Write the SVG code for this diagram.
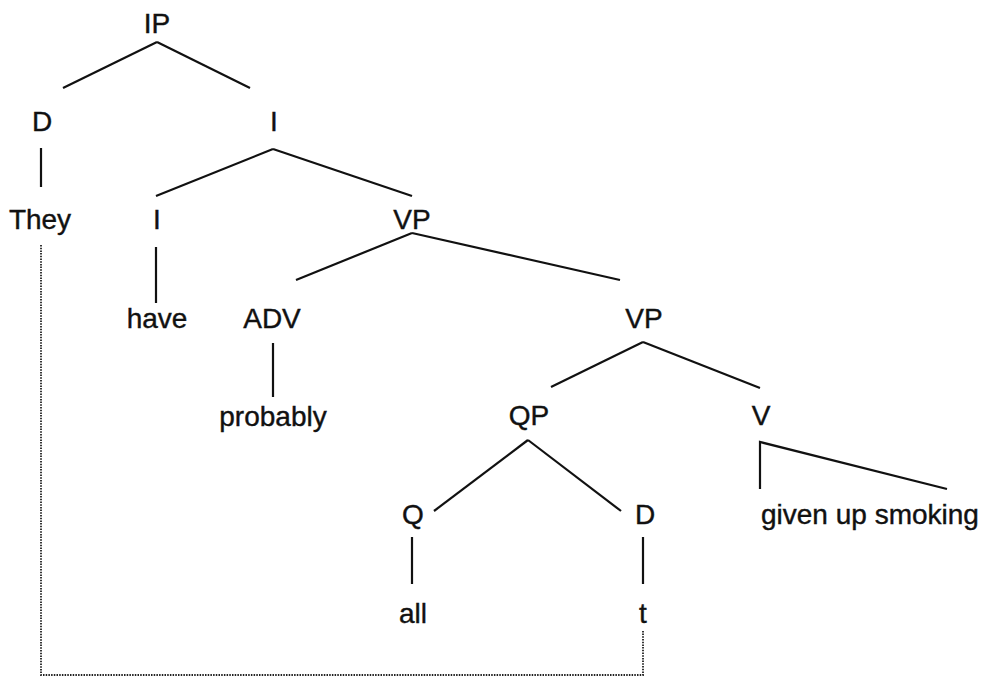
<svg xmlns="http://www.w3.org/2000/svg" width="986" height="676" viewBox="0 0 986 676">
<style>
text{font-family:"Liberation Sans",Arial,sans-serif;font-size:28px;fill:#111;stroke:#111;stroke-width:0.4;text-anchor:middle}
.e{stroke:#111;stroke-width:2.2;fill:none;stroke-linecap:butt}
.trace{stroke:#222;stroke-width:1.8;fill:none;stroke-dasharray:1.5 1.2}
</style>
<rect width="986" height="676" fill="#fff"/>
<g id="connectors">
<line class="e" x1="157" y1="42" x2="63" y2="88"/>
<line class="e" x1="157" y1="42" x2="250" y2="88"/>
<line class="e" x1="41" y1="148" x2="41" y2="187"/>
<line class="e" x1="273" y1="149" x2="156" y2="196"/>
<line class="e" x1="273" y1="149" x2="412" y2="196"/>
<line class="e" x1="156" y1="247" x2="156" y2="303"/>
<line class="e" x1="412" y1="233" x2="296" y2="280"/>
<line class="e" x1="412" y1="233" x2="620" y2="280"/>
<line class="e" x1="273" y1="343" x2="273" y2="397"/>
<line class="e" x1="643" y1="342" x2="551" y2="387"/>
<line class="e" x1="643" y1="342" x2="760" y2="388"/>
<line class="e" x1="528" y1="440" x2="434" y2="511"/>
<line class="e" x1="528" y1="440" x2="621" y2="511"/>
<line class="e" x1="412" y1="537" x2="412" y2="584"/>
<line class="e" x1="643" y1="537" x2="643" y2="584"/>
<polyline class="e" points="760,489 760,442 947,489"/>
<polyline class="trace" points="41,245 41,675 643,675 643,631"/>
</g>
<g id="n-IP"><text x="157" y="33">IP</text></g>
<g id="n-D1"><text x="42" y="131">D</text></g>
<g id="n-Ibar"><text x="274" y="131">I</text></g>
<g id="n-They"><text x="40" y="229">They</text></g>
<g id="n-I"><text x="157" y="229">I</text></g>
<g id="n-VP1"><text x="412" y="229">VP</text></g>
<g id="n-have"><text x="157" y="328">have</text></g>
<g id="n-ADV"><text x="272" y="328">ADV</text></g>
<g id="n-VP2"><text x="644" y="328">VP</text></g>
<g id="n-probably"><text x="273" y="426">probably</text></g>
<g id="n-QP"><text x="529" y="425">QP</text></g>
<g id="n-V"><text x="761" y="425">V</text></g>
<g id="n-Q"><text x="413" y="524">Q</text></g>
<g id="n-D2"><text x="645" y="524">D</text></g>
<g id="n-given"><text x="761" y="524" style="text-anchor:start">given up smoking</text></g>
<g id="n-all"><text x="413" y="623">all</text></g>
<g id="n-t"><text x="643" y="623">t</text></g>
</svg>
